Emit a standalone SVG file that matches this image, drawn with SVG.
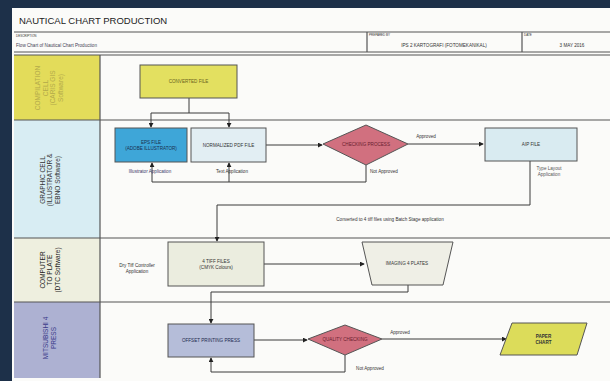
<svg xmlns="http://www.w3.org/2000/svg" width="610" height="381" viewBox="0 0 610 381">
<defs>
<style>
.t{font-family:"Liberation Sans",Arial,sans-serif;fill:#333}
.s{font-size:4.6px}
.ln{stroke:#3a3a3a;stroke-width:1;fill:none}
.lane{stroke:#555;stroke-width:1.2}
.nd{stroke:#555;stroke-width:1}
</style>
<marker id="a" viewBox="0 0 6 6" refX="5" refY="3" markerWidth="5" markerHeight="5" orient="auto"><path d="M0,0 L6,3 L0,6 z" fill="#222"/></marker>
</defs>
<rect width="610" height="381" fill="#1d3049"/>
<rect x="12" y="8" width="598" height="373" fill="#fbfbf9"/>
<g id="header">
<text class="t" x="19" y="24" font-size="9.5" style="fill:#222">NAUTICAL CHART PRODUCTION</text>
<line x1="14" y1="32" x2="610" y2="32" class="lane"/>
<line x1="14" y1="52" x2="610" y2="52" class="lane"/>
<line x1="367" y1="32" x2="367" y2="52" class="lane"/>
<line x1="522" y1="32" x2="522" y2="52" class="lane"/>
<text class="t" x="16" y="37" font-size="3">DESCRIPTION</text>
<text class="t s" x="16" y="47" style="fill:#445">Flow Chart of Nautical Chart Production</text>
<text class="t" x="369" y="36" font-size="3">PREPARED BY</text>
<text class="t s" x="444" y="47" text-anchor="middle">IPS 2 KARTOGRAFI (FOTOMEKANIKAL)</text>
<text class="t" x="524" y="36" font-size="3">DATE</text>
<text class="t s" x="572" y="47" text-anchor="middle">3 MAY 2016</text>
</g>
<g id="lanes">
<rect x="14" y="55" width="86" height="65" fill="#e3dc5a"/>
<rect x="14" y="120" width="86" height="118" fill="#d8edf3"/>
<rect x="14" y="238" width="86" height="64" fill="#eeefdf"/>
<rect x="14" y="302" width="86" height="76" fill="#adb1d2"/>
<line x1="14" y1="55" x2="610" y2="55" class="lane"/>
<line x1="14" y1="120" x2="610" y2="120" class="lane"/>
<line x1="14" y1="238" x2="610" y2="238" class="lane"/>
<line x1="14" y1="302" x2="610" y2="302" class="lane"/>
<line x1="100" y1="55" x2="100" y2="378" class="lane"/>
<text class="t" font-size="6.5" style="fill:#b3aa4a" text-anchor="middle" transform="translate(50,88) rotate(-90)"><tspan x="0" y="-10">COMPILATION</tspan><tspan x="0" y="-2.5">CELL</tspan><tspan x="0" y="5">(CARIS GIS</tspan><tspan x="0" y="12.5">Software)</tspan></text>
<text class="t" font-size="6.5" style="fill:#333" text-anchor="middle" transform="translate(50,180) rotate(-90)"><tspan x="0" y="-5.5">GRAPHIC CELL</tspan><tspan x="0" y="2">(ILLUSTRATOR &amp;</tspan><tspan x="0" y="9.5">EBNO Software)</tspan></text>
<text class="t" font-size="6.5" style="fill:#222" text-anchor="middle" transform="translate(50,270) rotate(-90)"><tspan x="0" y="-5.5">COMPUTER</tspan><tspan x="0" y="2">TO PLATE</tspan><tspan x="0" y="9.5">(DTC Software)</tspan></text>
<text class="t" font-size="6.5" style="fill:#3a3a8a" text-anchor="middle" transform="translate(50,338) rotate(-90)"><tspan x="0" y="-2">MITSUBISHI 4</tspan><tspan x="0" y="5.5">PRESS</tspan></text>
</g>
<g id="connectors">
<path class="ln" d="M189,98 V113 M151,113 H229"/>
<path class="ln" d="M151,113 V127" marker-end="url(#a)"/>
<path class="ln" d="M229,113 V127" marker-end="url(#a)"/>
<path class="ln" d="M266,145 H322" marker-end="url(#a)"/>
<path class="ln" d="M408,144 H483" marker-end="url(#a)"/>
<path class="ln" d="M366,165 V182 H152"/>
<path class="ln" d="M229,182 V163" marker-end="url(#a)"/>
<path class="ln" d="M152,182 V163" marker-end="url(#a)"/>
<path class="ln" d="M530,161 V205 H217 V241" marker-end="url(#a)"/>
<path class="ln" d="M264,264 H364" marker-end="url(#a)"/>
<path class="ln" d="M408,285 V292 H211 V323" marker-end="url(#a)"/>
<path class="ln" d="M254,340 H307" marker-end="url(#a)"/>
<path class="ln" d="M382,339 H506" marker-end="url(#a)"/>
<path class="ln" d="M345,355 V372 H211 V358" marker-end="url(#a)"/>
<text class="t s" x="426" y="138" text-anchor="middle">Approved</text>
<text class="t s" x="370" y="173">Not Approved</text>
<text class="t s" x="150" y="173" text-anchor="middle" style="fill:#3a3a6a">Illustrator Application</text>
<text class="t s" x="232" y="173" text-anchor="middle">Text Application</text>
<text class="t s" x="549" y="170" text-anchor="middle" style="fill:#555"><tspan x="549">Type Layout</tspan><tspan x="549" dy="6">Application</tspan></text>
<text class="t s" x="390" y="221" text-anchor="middle">Converted to 4 tiff files using Batch Stage application</text>
<text class="t s" x="137" y="267" text-anchor="middle"><tspan x="137">Dry Tiff Controller</tspan><tspan x="137" dy="6">Application</tspan></text>
<text class="t s" x="400" y="334" text-anchor="middle">Approved</text>
<text class="t s" x="370" y="370" text-anchor="middle">Not Approved</text>
</g>
<g id="n-converted">
<rect class="nd" x="140" y="65" width="97" height="33" fill="#e3e060"/>
<text class="t s" x="188.5" y="83" text-anchor="middle" style="fill:#6a6420">CONVERTED FILE</text>
</g>
<g id="n-eps">
<rect class="nd" x="115" y="128" width="72" height="34" fill="#3ea6d8"/>
<text class="t s" x="151" y="144" text-anchor="middle" style="fill:#1a3050"><tspan x="151">EPS FILE</tspan><tspan x="151" dy="5.5">(ADOBE ILLUSTRATOR)</tspan></text>
</g>
<g id="n-pdf">
<rect class="nd" x="191" y="128" width="75" height="34" fill="#e2eef3"/>
<text class="t s" x="228.5" y="146.5" text-anchor="middle">NORMALIZED PDF FILE</text>
</g>
<g id="n-check">
<polygon class="nd" points="323,144 366,125 408,144 366,165" fill="#d1707f"/>
<text class="t s" x="366" y="146" text-anchor="middle" style="fill:#6a2030">CHECKING PROCESS</text>
</g>
<g id="n-aip">
<rect class="nd" x="485" y="128" width="92" height="33" fill="#d9ebf1"/>
<text class="t s" x="531" y="146" text-anchor="middle">AIP FILE</text>
</g>
<g id="n-tiff">
<rect class="nd" x="168" y="242" width="96" height="44" fill="#ebeddf"/>
<text class="t s" x="216" y="263" text-anchor="middle"><tspan x="216">4 TIFF FILES</tspan><tspan x="216" dy="5.5">(CMYK Colours)</tspan></text>
</g>
<g id="n-imaging">
<polygon class="nd" points="362,242 453,242 443,285 372,285" fill="#efefe6"/>
<text class="t s" x="407" y="265" text-anchor="middle">IMAGING 4 PLATES</text>
</g>
<g id="n-offset">
<rect class="nd" x="168" y="324" width="86" height="33" fill="#b5bdd9"/>
<text class="t s" x="211" y="342" text-anchor="middle" style="fill:#222a50">OFFSET PRINTING PRESS</text>
</g>
<g id="n-quality">
<polygon class="nd" points="308,339 345,325 382,339 345,355" fill="#d1707f"/>
<text class="t s" x="345" y="341" text-anchor="middle" style="fill:#6a2030">QUALITY CHECKING</text>
</g>
<g id="n-paper">
<polygon class="nd" points="512,323 587,323 577,355 500,355" fill="#dcdc5a"/>
<text class="t s" x="543.5" y="338" text-anchor="middle" font-weight="bold"><tspan x="543.5">PAPER</tspan><tspan x="543.5" dy="5.5">CHART</tspan></text>
</g>
</svg>
